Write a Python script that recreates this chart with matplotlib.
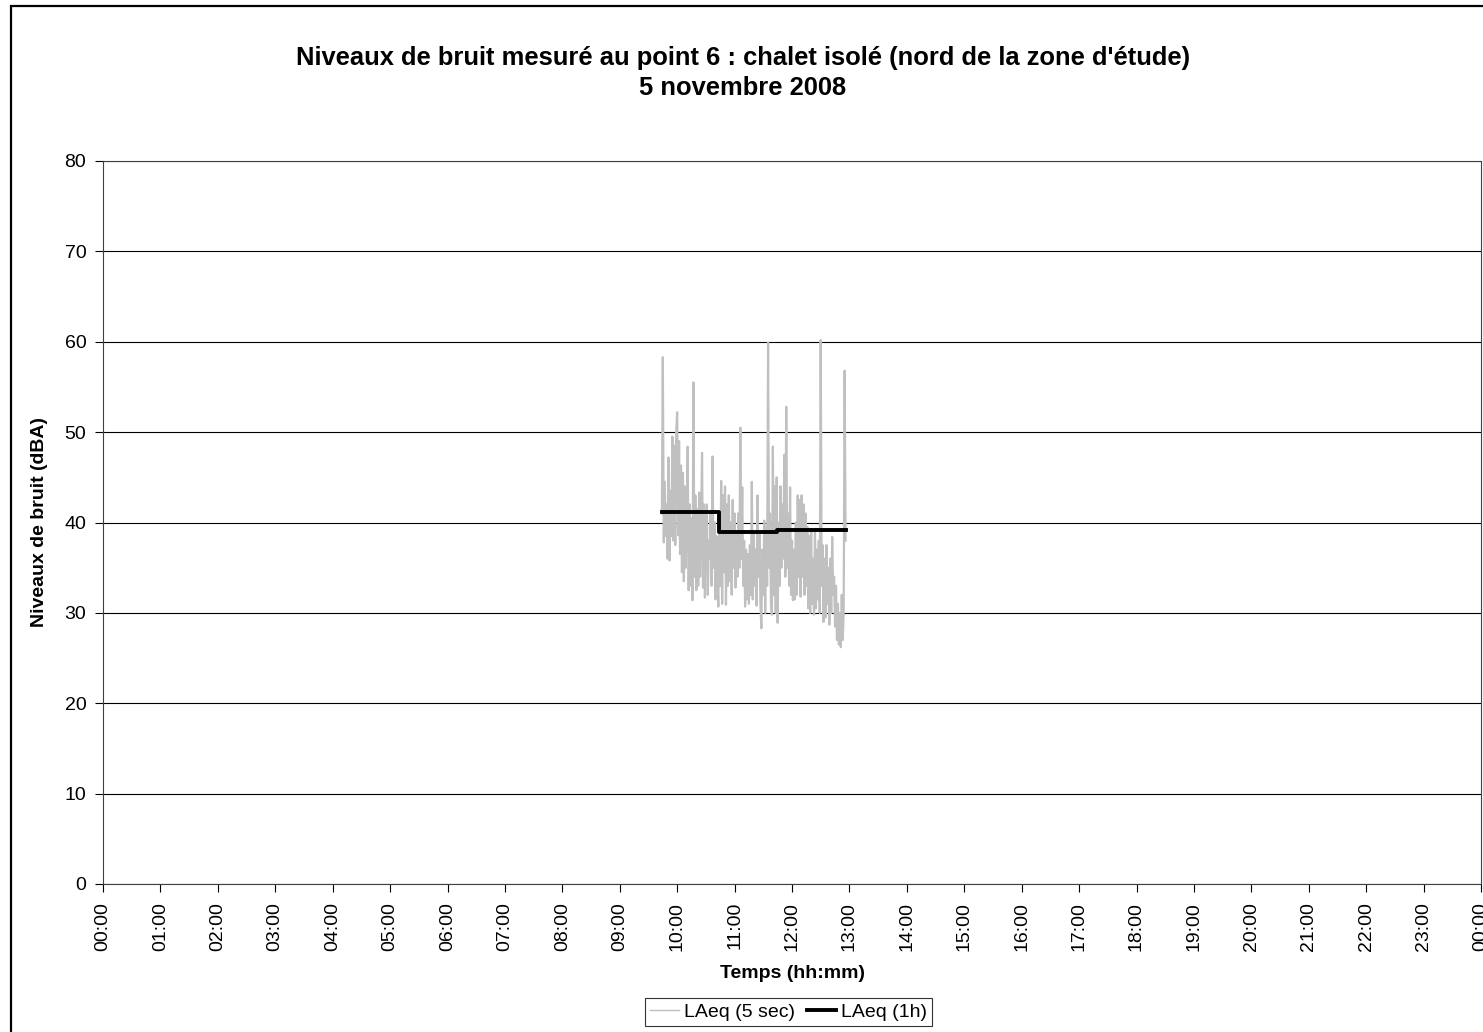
import numpy as np
import matplotlib
matplotlib.use("Agg")
import matplotlib.pyplot as plt
from matplotlib.patches import Rectangle

plt.rcParams['font.family'] = ['Liberation Sans', 'DejaVu Sans']

# LAeq (5 sec), one value per minute from 09:44
start_min = 584
laeq_5s = [
    41, 58.3, 37.8, 44.5, 38.5, 42, 36, 47.2, 35.8, 43.5,
    38.5, 49.5, 38, 48.5, 37.5, 50, 52.2, 38.6, 49, 36.5,
    46.3, 34.5, 45.5, 33.5, 44, 35, 41, 48.4, 32.5, 42,
    33, 40.5, 31.4, 55.5, 34, 43, 32.5, 41.5, 33, 43.3,
    34, 40, 47.7, 32.8, 42, 31.7, 39, 42, 32, 38,
    36, 41, 33, 47.3, 35, 40, 31.5, 38.5, 34, 30.7,
    39.5, 33, 44.6, 31, 43, 34.5, 44, 30.9, 42, 33,
    43, 33.5, 40, 32, 42.5, 35, 41, 32.8, 39, 34,
    41, 35, 50.5, 36, 43.9, 33, 38, 30.7, 37, 31.5,
    36.5, 31, 37.5, 32, 44.5, 31.5, 39, 33, 37, 30.8,
    43, 34, 39, 31, 28.3, 37, 32, 40.2, 30, 39.5,
    33, 59.9, 35, 41, 31, 29.8, 48.4, 32, 44, 30,
    45, 28.9, 40, 33, 44, 35, 42, 36, 47.5, 34,
    52.8, 35, 41, 33, 43.9, 32, 38, 31.4, 37, 31.5,
    40, 32, 43, 34, 42.5, 31.8, 43, 34, 42, 32,
    41, 33, 39.5, 30.5, 38.5, 30, 39, 31, 36, 29.8,
    39.3, 30.5, 37, 31.5, 38, 30, 60.2, 33, 37.5, 29,
    36, 29.5, 37.5, 31, 35, 28.7, 36, 30, 38.4, 32,
    34, 28.5, 33, 27, 31, 26.5, 30, 26.2, 32, 27, 30, 56.8, 38,
]

# LAeq (1h) steps (minutes since midnight)
hour_edges = [584, 644, 704, 776]
laeq_1h = [41.2, 38.9, 39.2]

hour_labels = ["%02d:00" % (h % 24) for h in range(25)]

t_5s = (start_min + np.arange(len(laeq_5s))) / 60.0
t_1h = np.array(hour_edges) / 60.0

W, H = 1483, 1032
fig = plt.figure(figsize=(W / 100, H / 100), dpi=100)
ax = fig.add_axes([103 / W, 1 - 884 / H, (1481 - 103) / W, (884 - 161) / H])

# outer chart border
fig.patches.append(Rectangle((11 / W, -0.05), 1.2, 1 - 6 / H + 0.05,
                             transform=fig.transFigure, fill=False,
                             edgecolor='black', lw=1.6))

ax.plot(t_5s, laeq_5s, color='#c0c0c0', lw=1.6, label='LAeq (5 sec)', zorder=3)
ax.step(t_1h, laeq_1h + [laeq_1h[-1]], where='post', color='black', lw=2.8,
        label='LAeq (1h)', zorder=4)

ax.set_xlim(0, 24)
ax.set_ylim(0, 80)
ax.set_yticks(range(0, 81, 10))
ax.set_xticks(range(25))
ax.set_xticklabels(hour_labels, rotation=90)
ax.tick_params(axis='both', labelsize=14, direction='out', length=6, width=0.8, colors='black')
ax.tick_params(axis='y', pad=6)
ax.tick_params(axis='x', pad=7)
ax.grid(axis='y', color='black', lw=0.8)
ax.set_axisbelow(True)
for s in ax.spines.values():
    s.set_color('#404040')
    s.set_linewidth(0.8)

ax.set_xlabel('Temps (hh:mm)', fontsize=14, fontweight='bold', labelpad=10)
ax.set_ylabel('Niveaux de bruit (dBA)', fontsize=14, fontweight='bold', labelpad=12)

fig.text(743 / W, 1 - 65 / H, "Niveaux de bruit mesuré au point 6 : chalet isolé (nord de la zone d'étude)",
         ha='center', va='baseline', fontsize=18.4, fontweight='bold')
fig.text(743 / W, 1 - 95 / H, "5 novembre 2008",
         ha='center', va='baseline', fontsize=18.4, fontweight='bold')

leg = fig.legend(loc='center', bbox_to_anchor=(788.5 / W, 1 - 1012 / H), ncol=2,
                 fontsize=14, frameon=True, fancybox=False, handlelength=1.5,
                 handletextpad=0.25, columnspacing=0.6, borderpad=0.25,
                 borderaxespad=0)
leg.get_frame().set_edgecolor('black')
leg.get_frame().set_linewidth(0.8)
leg.get_lines()[0].set_linewidth(1.0)

fig.savefig('out.png', dpi=100)
